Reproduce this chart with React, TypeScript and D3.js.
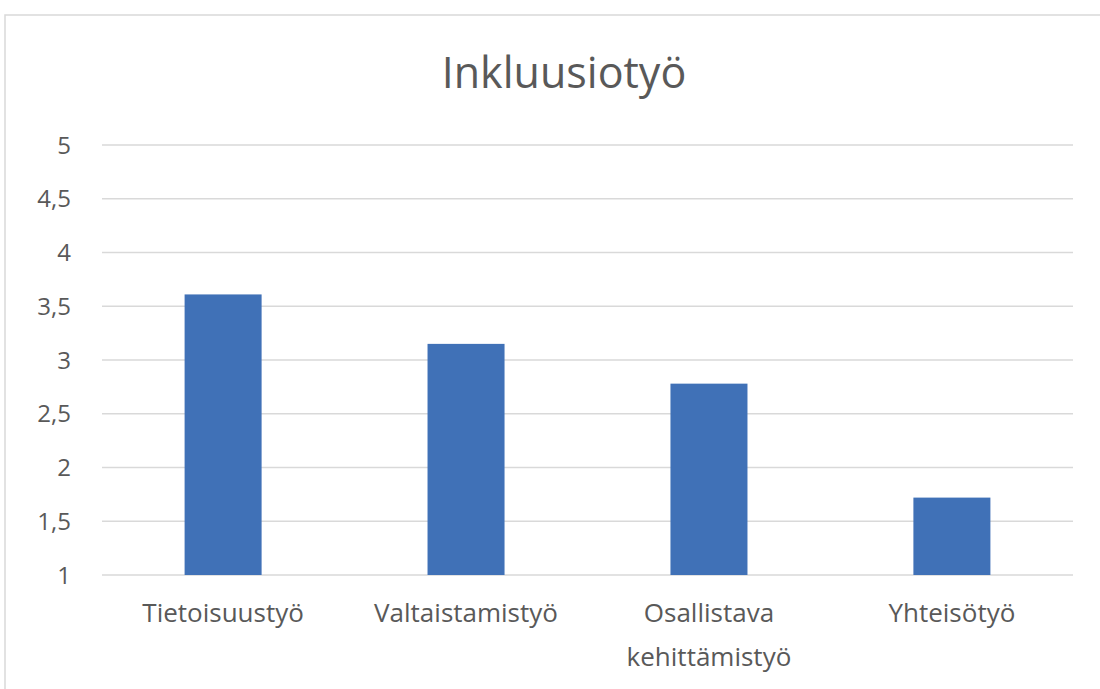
import React from "react";
import * as d3 from "d3";

const title = "Inkluusiotyö";
const categories = ["Tietoisuustyö", "Valtaistamistyö", "Osallistava kehittämistyö", "Yhteisötyö"];
const categoryLines = [["Tietoisuustyö"], ["Valtaistamistyö"], ["Osallistava", "kehittämistyö"], ["Yhteisötyö"]];
const values = [3.61, 3.15, 2.78, 1.72];
const yTicks = [1, 1.5, 2, 2.5, 3, 3.5, 4, 4.5, 5];

const W = 1100;
const H = 689;
const margin = { left: 102, right: 27, top: 145, bottom: 114 };

export default function App() {
  const x = d3
    .scaleBand<string>()
    .domain(categories)
    .range([margin.left, W - margin.right])
    .paddingInner(0.683)
    .paddingOuter(0.34);
  const y = d3.scaleLinear().domain([1, 5]).range([H - margin.bottom, margin.top]);
  const fmt = (v: number) => String(v).replace(".", ",");
  const font = "'Open Sans', sans-serif";
  return (
    <svg
      width={W}
      height={H}
      style={{ position: "absolute", left: 0, top: 0, background: "#fff" }}
    >
      <rect x={5} y={15} width={1120} height={700} fill="#fff" stroke="#d9d9d9" strokeWidth={1.5} />
      <text
        x={564}
        y={88}
        textAnchor="middle"
        fontFamily={font}
        fontSize={43}
        fill="#595959"
      >
        {title}
      </text>
      {yTicks.map((t) => (
        <g key={t}>
          <line
            x1={margin.left}
            x2={W - margin.right}
            y1={y(t)}
            y2={y(t)}
            stroke="#d9d9d9"
            strokeWidth={1.5}
          />
          <text
            x={71}
            y={y(t)}
            dy="0.36em"
            textAnchor="end"
            fontFamily={font}
            fontSize={24}
            fill="#595959"
          >
            {fmt(t)}
          </text>
        </g>
      ))}
      {categories.map((c, i) => (
        <rect
          key={c}
          x={x(c)}
          y={y(values[i])}
          width={x.bandwidth()}
          height={y(1) - y(values[i])}
          fill="#4071b7"
        />
      ))}
      {categories.map((c, i) => (
        <text
          key={c}
          x={(x(c) as number) + x.bandwidth() / 2}
          y={622}
          textAnchor="middle"
          fontFamily={font}
          fontSize={26}
          fill="#595959"
        >
          {categoryLines[i].map((line, j) => (
            <tspan key={j} x={(x(c) as number) + x.bandwidth() / 2} dy={j === 0 ? 0 : 44}>
              {line}
            </tspan>
          ))}
        </text>
      ))}
    </svg>
  );
}
